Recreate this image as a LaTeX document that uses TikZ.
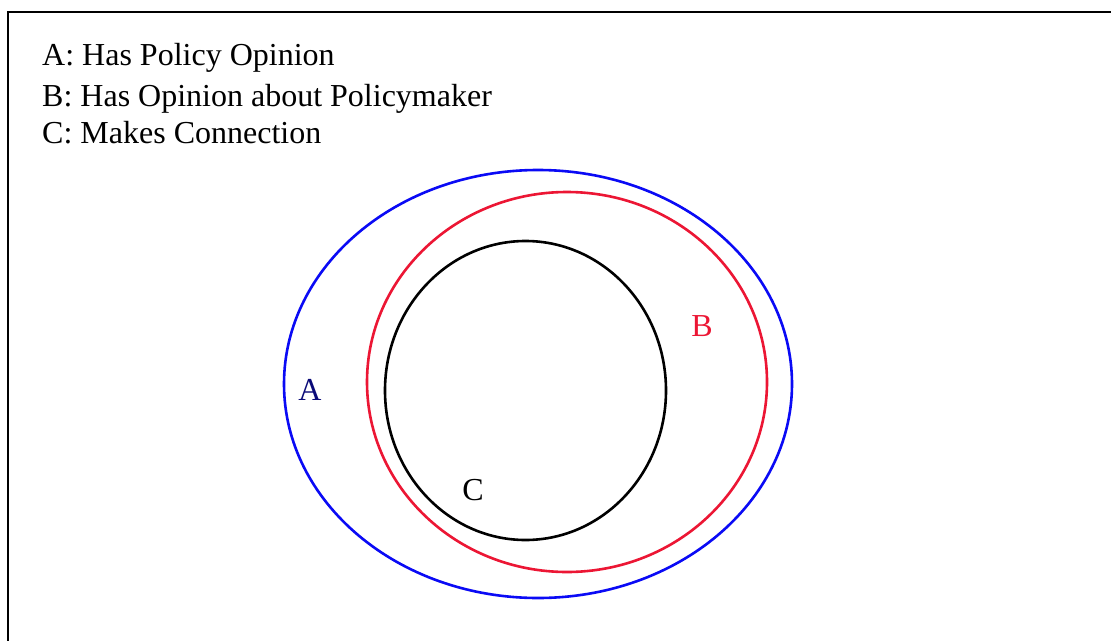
\documentclass[tikz,border=0pt]{standalone}
\usepackage{fontspec}
\setmainfont{Liberation Serif}
\usetikzlibrary{positioning,shapes.geometric}

\definecolor{setblue}{RGB}{10,10,245}
\definecolor{setred}{RGB}{236,22,52}
\definecolor{setnavy}{RGB}{10,10,120}

\tikzset{
  legend/.style={anchor=base west,inner sep=0pt,font=\fontsize{32}{38}\selectfont},
  setring/.style={ellipse,draw,line width=2.6pt,inner sep=0pt},
  setlabel/.style={inner sep=0pt,font=\fontsize{32}{38}\selectfont}
}

\begin{document}
\begin{tikzpicture}[x=1pt,y=-1pt]
  \useasboundingbox (0,0) rectangle (1111,640);
  \fill[white] (0,0) rectangle (1111,640);
  \draw[line width=2.8pt] (1130,12) -- (8,12) -- (8,660);

  % legend
  \node[legend] (legA) at (42,65) {A: Has Policy Opinion};
  \node[legend] (legB) at (42,106) {B: Has Opinion about Policymaker};
  \node[legend] (legC) at (42,143) {C: Makes Connection};

  % the three sets
  \node[setring,setblue,minimum width=508pt,minimum height=428pt] (setA) at (538,384) {};
  \node[setring,setred,minimum width=400pt,minimum height=380pt] (setB) at (567,382) {};
  \node[setring,black,minimum width=281pt,minimum height=299pt] (setC) at (525.5,390.5) {};

  \node[setlabel,text=setnavy] (labA) at (310,390) {A};
  \node[setlabel,text=setred] (labB) at (702,326) {B};
  \node[setlabel] (labC) at (473,490) {C};
\end{tikzpicture}
\end{document}
